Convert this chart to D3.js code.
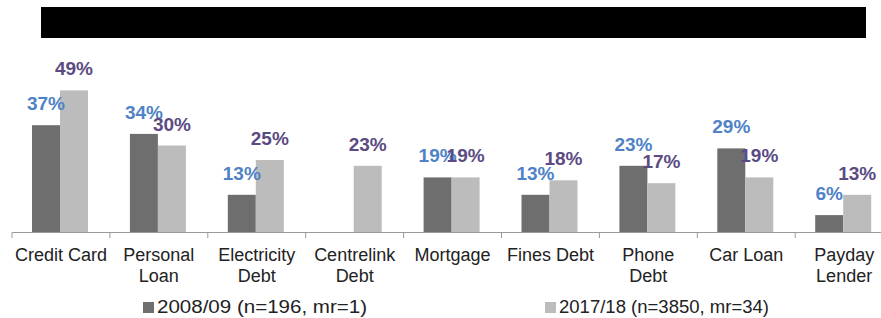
<!DOCTYPE html>
<html>
<head>
<meta charset="utf-8">
<script src="https://cdn.jsdelivr.net/npm/d3@7"></script>
<style>
  body { margin: 0; background: #fff; }
  svg { display: block; font-family: Arial, "Liberation Sans", sans-serif; }
</style>
</head>
<body>
<div id="chart"></div>
<script>
// debt types and share of clients (%)
const categories = ["Credit Card", "Personal Loan", "Electricity Debt", "Centrelink Debt", "Mortgage", "Fines Debt", "Phone Debt", "Car Loan", "Payday Lender"];
const axisLines = [["Credit Card"], ["Personal", "Loan"], ["Electricity", "Debt"], ["Centrelink", "Debt"], ["Mortgage"], ["Fines Debt"], ["Phone", "Debt"], ["Car Loan"], ["Payday", "Lender"]];
const series = ["2008/09 (n=196, mr=1)", "2017/18 (n=3850, mr=34)"];
const values0809 = [37, 34, 13, null, 19, 13, 23, 29, 6];
const values1718 = [49, 30, 25, 23, 19, 18, 17, 19, 13];

const barColors = ["#6e6e6e", "#bcbcbc"];
const labelColors = ["#4f82c6", "#5b4b82"];

const width = 881, height = 318;
const svg = d3.select("#chart").append("svg")
    .attr("width", width)
    .attr("height", height);

// blacked-out title band
svg.append("rect")
    .attr("x", 41).attr("y", 7)
    .attr("width", 825).attr("height", 31)
    .attr("fill", "#000");

const x = d3.scaleBand()
    .domain(categories)
    .range([12, 12 + 9 * 97.9]);

const x1 = d3.scaleBand()
    .domain([0, 1])
    .range([20, 76]);

const y = d3.scaleLinear()
    .domain([0, 50])
    .range([232.5, 87.5]);

const rows = categories.map((c, i) => ({cat: c, vals: [values0809[i], values1718[i]]}));

const groups = svg.selectAll(".grp")
    .data(rows)
    .enter().append("g")
    .attr("class", "grp")
    .attr("transform", d => "translate(" + x(d.cat) + ",0)");

const bars = groups.selectAll(".bar")
    .data(d => d.vals.map((v, k) => ({k: k, v: v})).filter(e => e.v != null))
    .enter();

bars.append("rect")
    .attr("x", e => x1(e.k))
    .attr("width", x1.bandwidth())
    .attr("y", e => y(e.v))
    .attr("height", e => y(0) - y(e.v))
    .attr("fill", e => barColors[e.k]);

bars.append("text")
    .attr("x", e => x1(e.k) + x1.bandwidth() / 2)
    .attr("y", e => y(e.v) - 15)
    .attr("text-anchor", "middle")
    .style("font-size", "19px")
    .style("font-weight", "bold")
    .attr("fill", e => labelColors[e.k])
    .text(e => e.v + "%");

// axis
svg.append("line")
    .attr("x1", 12).attr("x2", width)
    .attr("y1", 232.5).attr("y2", 232.5)
    .attr("stroke", "#9a9a9a");

svg.selectAll(".tick")
    .data(categories)
    .enter().append("line")
    .attr("x1", d => x(d)).attr("x2", d => x(d))
    .attr("y1", 232.5).attr("y2", 238)
    .attr("stroke", "#9a9a9a");

const catText = svg.selectAll(".cat")
    .data(categories)
    .enter().append("text")
    .attr("class", "cat")
    .attr("x", d => x(d) + x.bandwidth() / 2)
    .attr("y", 261)
    .attr("text-anchor", "middle")
    .style("font-size", "18px")
    .attr("fill", "#222");

catText.selectAll("tspan")
    .data((d, i) => axisLines[i])
    .enter().append("tspan")
    .attr("x", function() { return d3.select(this.parentNode).attr("x"); })
    .attr("dy", (d, j) => j == 0 ? 0 : 21)
    .text(d => d);

// legend
const legendX = [143, 545];
const legendLen = [210, 210];
const legend = svg.selectAll(".leg")
    .data(series)
    .enter().append("g")
    .attr("transform", (d, i) => "translate(" + legendX[i] + ",0)");

legend.append("rect")
    .attr("x", 0).attr("y", 302)
    .attr("width", 11).attr("height", 11)
    .attr("fill", (d, i) => barColors[i]);

legend.append("text")
    .attr("x", 14).attr("y", 313)
    .style("font-size", "18px")
    .attr("textLength", (d, i) => legendLen[i])
    .attr("lengthAdjust", "spacingAndGlyphs")
    .attr("fill", "#222")
    .text(d => d);
</script>
</body>
</html>
